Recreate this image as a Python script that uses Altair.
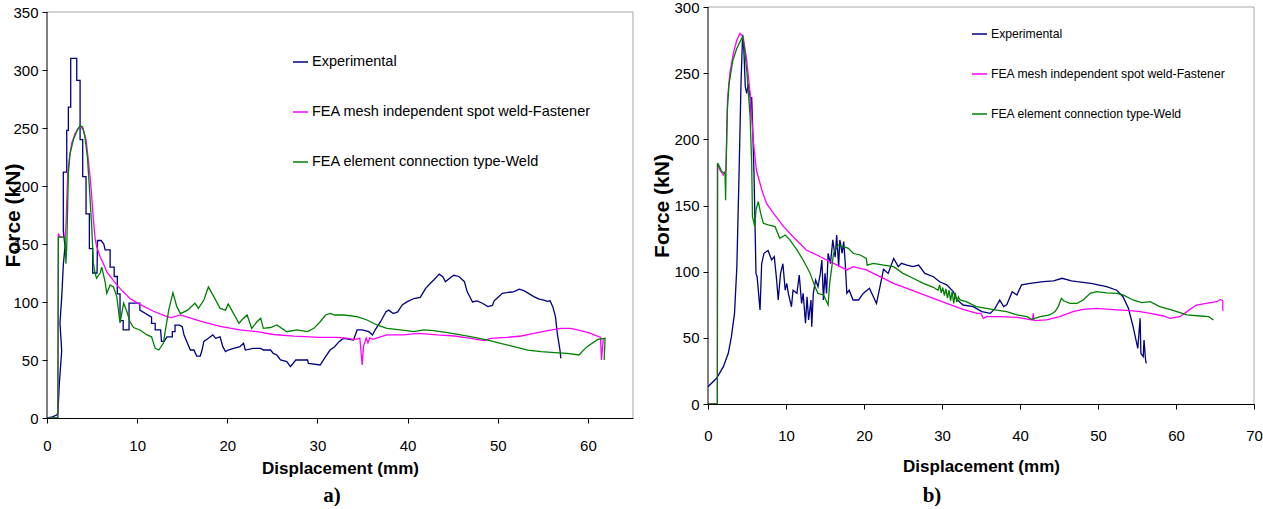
import altair as alt
import pandas as pd

NAMES = ["Experimental", "FEA mesh independent spot weld-Fastener", "FEA element connection type-Weld"]
COLORS = ["#000080", "#FF00FF", "#008000"]

# ---------------- chart a) ----------------
a_exp_x = [0, 0.6, 1.07, 1.2, 1.26, 1.37, 1.63, 1.44, 1.63, 1.81, 2.0, 1.81, 1.81, 1.89, 2.19, 2.19, 2.37, 2.37,
           2.63, 2.63, 3.30, 3.30, 3.67, 3.67, 3.96, 3.96, 4.33, 4.33, 4.70, 4.70, 5.07, 5.07, 5.55, 5.6, 6.0,
           6.3, 6.45, 7.0, 7.0, 7.45, 7.45, 7.8, 7.8, 8.1, 8.1, 8.45, 8.45, 9.1, 9.1, 10.3, 10.3, 11.6, 11.6,
           12.0, 12.0, 12.6, 12.7, 13.0, 13.3, 13.9, 13.9, 14.2, 14.2, 14.7, 15.0, 15.2, 15.5, 15.9, 16.3, 16.6,
           17.0, 17.2, 17.4, 17.9, 18.4, 18.7, 19.2, 19.5, 19.8, 20.1, 20.7, 21.4, 21.8, 22.0, 22.9, 23.7, 24.0,
           24.8, 25.1, 25.5, 25.9, 26.6, 27.0, 27.6, 28.9, 29.0, 30.3, 30.9, 31.4, 31.9, 32.4, 32.9, 34.0, 34.4,
           34.96, 35.7, 36.1, 36.4, 37.0, 37.6, 37.9, 38.4, 38.9, 39.4, 39.96, 40.7, 41.4, 42.0, 42.5, 42.9, 43.5,
           43.9, 44.2, 44.6, 45.1, 45.7, 46.3, 46.6, 47.2, 47.7, 48.3, 48.9, 49.4, 49.6, 50.1, 50.5, 51.0, 51.8,
           52.4, 52.9, 53.5, 54.0, 54.6, 55.1, 55.5, 55.8, 56.1, 56.4, 56.6, 56.9, 57.0]
a_exp_y = [0, 1, 2.6, 4, 12, 30, 58, 82, 104, 132, 148, 161, 212, 212, 212, 248, 248, 268,
           268, 310, 310, 291, 291, 240, 240, 208, 208, 176, 176, 146, 146, 125, 125, 153, 153,
           150, 145, 145, 130, 130, 122, 122, 107, 107, 84, 84, 76, 76, 99, 99, 93, 87, 81.6,
           81.6, 76, 76, 66, 66, 70, 70, 74.4, 74.4, 80, 80, 78.7, 71.6, 66, 58.6, 58.6, 53.4,
           53.4, 58.6, 66, 68.7, 71.6, 68.7, 70, 61.5, 57.2, 58.6, 60, 61.5, 64.4, 58.6, 60, 60, 58.6,
           58.6, 55.7, 54.3, 50, 48.6, 44.3, 50, 50, 47, 45.7, 52.9, 58.6, 61.5, 65.8, 68.7, 67.2, 75.9,
           75.9, 74.4, 71.6, 75.9, 83, 91.7, 93, 90, 91.5, 97.4, 100.3, 103, 104, 111.8, 116, 119, 124,
           121.8, 117.5, 120, 123, 122, 117.5, 109, 100, 101, 98.9, 96, 97, 101, 104.6, 107.5, 108, 109,
           111, 109.8, 107, 104.6, 102.5, 101.7, 100.5, 101, 96, 87.4, 73, 58.6, 51.4]

a_fas_x = [0, 1.2, 1.26, 1.44, 2.0, 2.1, 2.3, 2.5, 2.74, 3.11, 3.48, 3.78, 4.04, 4.33, 4.59, 4.78, 4.96, 5.15,
           5.33, 5.5, 5.89, 6.26, 6.63, 7.19, 7.74, 8.3, 9.2, 10.3, 11.8, 13.3, 13.8, 14.8, 17.0, 19.2, 21.4,
           23.3, 25.1, 27.4, 30.3, 32.2, 33.4, 34.0, 34.7, 34.96, 35.1, 35.4, 35.6, 35.8, 36.2, 36.8, 37.7,
           39.5, 41.2, 43.3, 45.2, 47.0, 48.5, 49.2, 51.0, 52.6, 54.0, 55.5, 57.0, 58.1, 59.2, 60.3, 61.4,
           61.5, 61.7]
a_fas_y = [0, 0, 159, 156, 156, 165, 211, 225, 237, 245, 250, 251, 248, 240, 222, 208, 191, 171,
           155, 148, 139, 133, 126, 120.4, 114.7, 110, 103, 98, 92, 87.4, 86.5, 88.8, 83.5, 79, 76,
           74.4, 72, 70.5, 69.5, 69.5, 68.7, 67.5, 68.7, 45.7, 61.5, 69, 64.7, 69, 67.8, 69.5, 71.6,
           71.6, 73, 71.6, 70.7, 68.7, 66.7, 68.7, 69.5, 70.7, 73, 75.3, 77.3, 77.3, 75.3, 73, 69.5,
           50, 68]

a_wel_x = [0, 1.2, 1.26, 2.0, 2.1, 2.2, 2.37, 2.56, 2.93, 3.3, 3.67, 3.96, 4.2, 4.48, 4.7, 4.96, 5.15, 5.33,
           5.5, 5.9, 6.07, 6.44, 6.63, 7.0, 7.37, 7.74, 8.1, 8.5, 8.85, 9.2, 9.6, 10.3, 11.1, 11.6, 12.0, 12.4,
           12.9, 13.5, 13.97, 14.4, 14.8, 15.6, 16.4, 16.8, 17.4, 17.9, 18.5, 19.2, 19.8, 20.1, 20.7, 21.3,
           21.6, 22.2, 22.7, 23.3, 23.7, 24.0, 24.8, 25.5, 26.6, 27.7, 28.9, 29.6, 30.3, 30.9, 31.4, 31.9,
           32.9, 34.4, 35.5, 36.6, 37.7, 39.2, 40.7, 41.8, 42.9, 44.4, 45.9, 47.4, 48.9, 50.3, 51.8, 53.3,
           54.8, 56.3, 57.7, 59.0, 59.9, 61.1, 61.9, 61.8]
a_wel_y = [0, 0, 156, 156, 133, 150, 211, 228, 240, 247, 252, 251, 242.5, 225, 199, 165, 133, 125,
           120.4, 125, 130, 117.5, 107.5, 114.7, 113, 104.6, 82, 99, 92, 83, 78, 75.9, 71.6, 70, 60, 58.6,
           64.4, 93, 108, 96, 90, 93, 98.9, 94.5, 101.7, 113, 104.6, 94.5, 93, 98.3, 90, 81.6,
           84.5, 88.8, 77.3, 83, 86, 77.3, 78, 80.2, 74.4, 75.9, 74.4, 77.3, 83, 88.8, 90.2, 88.8,
           88.8, 87.4, 84.5, 80.2, 77.3, 75.9, 74.4, 75.9, 75.3, 73.6, 71.6, 69.5, 67.2, 64.4, 61.5, 58.6,
           57.2, 56.3, 55.7, 54.3, 61.5, 67.8, 68.7, 50]

# ---------------- chart b) ----------------
b_exp_x = [0, 1.1, 1.97, 2.6, 3.0, 3.4, 3.7, 4.0, 4.23, 4.44, 4.6, 4.78, 4.96, 5.17, 5.4, 5.56, 5.6, 5.7, 5.9,
           6.15, 6.3, 6.67, 6.88, 7.18, 7.7, 8.16, 8.5, 8.8, 9.0, 9.3, 9.6, 9.9, 10.1, 10.3, 10.7, 10.9, 11.4,
           11.7, 12.0, 12.2, 12.5, 12.7, 12.9, 13.2, 13.3, 13.5, 13.8, 14.1, 14.4, 14.6, 14.8, 15.0, 15.2, 15.4,
           15.7, 16.0, 16.3, 16.5, 16.75, 16.9, 17.2, 17.4, 17.6, 17.8, 18.1, 18.6, 19.3, 19.9, 20.7, 21.2,
           21.6, 22.05, 22.5, 23.1, 23.8, 24.4, 24.8, 25.5, 26.3, 27.0, 27.8, 28.9, 29.7, 30.6, 31.45, 31.9,
           32.7, 34.0, 35.1, 36.2, 36.8, 37.4, 37.9, 38.3, 39.0, 39.6, 40.2, 41.3, 43.0, 44.3, 45.4, 46.6,
           47.3, 49.1, 51.1, 52.4, 53.2, 53.9, 54.5, 55.1, 55.4, 55.5, 55.8, 55.9, 56.1, 56.2]
b_exp_y = [13.1, 19.4, 28.2, 38.3, 50.9, 68.5, 103.8, 179, 242, 279, 267.5, 240, 234.8, 242, 232, 217, 232, 214, 174,
           98.7, 96, 71, 106, 113.9, 116, 108.8, 111.3, 93.7, 78.6, 98.7, 106, 86, 91.2, 83.6, 73.5, 86, 83.6,
           97.5, 76, 83.6, 61, 81, 63.5, 78.6, 58.4, 83.6, 93.7, 88.7, 98.7, 108.8, 78.6, 98.7, 83.6, 113.9,
           106, 124, 111, 127.7, 103.8, 124, 113.9, 122.7, 106, 83.6, 86, 78.6, 78.6, 83.6, 87.4, 81,
           76, 88.7, 101.8, 98.7, 110, 103.8, 106.3, 105, 103.8, 105, 98.7, 96.2, 92.4, 90, 84.9, 79,
           74.8, 73.6, 69.8, 68.5, 72.3, 78.6, 73.6, 75, 84.9, 82.4, 90, 91.2, 92.4, 93, 95, 93,
           92.4, 91.2, 88.7, 86, 81.1, 72.3, 58.4, 42, 64.7, 38.3, 35.8, 48.4, 33.2, 30.7]

b_fas_x = [0, 1.2, 1.2, 1.5, 1.97, 2.3, 2.5, 2.8, 3.25, 3.7, 4.1, 4.5, 4.96, 5.4, 5.8, 6.2, 6.9, 7.5, 8.4, 9.7,
           10.9, 12.6, 14.4, 16.1, 17.8, 18.6, 20.3, 22.05, 23.8, 25.5, 27.2, 28.9, 30.6, 32.7, 34.5, 35.0,
           35.3, 35.7, 37.4, 39.6, 41.6, 41.7, 41.8, 43.4, 45.1, 46.8, 48.1, 49.8, 51.5, 54.1, 55.4, 56.7,
           58.4, 59.2, 60.5, 61.4, 62.6, 64.4, 65.2, 65.7, 66.0, 66.0]
b_fas_y = [0, 0, 182, 177, 173, 177, 230, 250, 265, 275, 280, 277.6, 260, 234.8, 199.5, 176.8, 161.7, 151.6, 144, 134,
           126.4, 116.4, 111.3, 106.3, 101.3, 103.8, 101.3, 96.2, 91.2, 87.4, 83.6, 79.8, 76, 71.5, 68.5, 68.5,
           64.7, 66, 66, 65.5, 63.5, 68.5, 63, 63.5, 66, 69.8, 71.5, 72.3, 71.5, 70.5, 69.8, 68.5,
           66.5, 64.7, 66, 69.8, 74.8, 76.6, 77.3, 79, 78, 70.5]

b_wel_x = [0, 1.2, 1.24, 1.5, 1.75, 2.18, 2.26, 2.3, 2.48, 2.7, 3.2, 3.7, 4.1, 4.44, 4.7, 5.0, 5.4, 5.6, 5.7, 6.0,
           6.15, 6.45, 6.75, 7.1, 7.7, 8.6, 9.2, 9.9, 10.5, 11.4, 12.2, 13.1, 13.7, 14.1, 14.8, 15.4, 15.6,
           16.1, 16.7, 17.4, 18.0, 18.6, 19.5, 20.3, 20.4, 21.2, 22.5, 23.8, 25.0, 26.3, 27.6, 28.9, 29.5,
           29.7, 29.9, 30.1, 30.3, 30.5, 30.7, 30.9, 31.1, 31.3, 31.5, 31.7, 31.9, 32.1, 32.3, 33.1, 34.4,
           35.7, 37.0, 38.3, 39.6, 40.9, 41.5, 42.6, 43.8, 44.5, 44.9, 45.3, 45.6, 46.4, 47.3, 48.1, 49.0,
           49.8, 51.1, 52.4, 53.2, 54.5, 55.6, 56.7, 57.9, 59.2, 60.5, 61.4, 63.1, 64.2, 64.8]
b_wel_y = [0, 0, 182, 179, 175.6, 174.3, 154, 174, 222, 242, 260, 268.8, 273.8, 277.6, 267.5, 250, 217, 182, 141.6, 134,
           146.6, 153, 144, 136.5, 135.3, 134, 125.2, 127.7, 124, 116.4, 108.8, 98.7, 88.7, 83.6, 82.4, 74.8, 91.2,
           113.9, 120.2, 118.9, 117.6, 113.9, 112.6, 110, 105, 106.3, 105, 103.8, 98.7, 95, 91.2, 88.2, 86,
           90, 84, 88, 82, 87, 80, 86, 78, 85, 76, 84, 77, 81, 78.6, 77.3, 73.6,
           72.3, 71, 69.8, 67.3, 66, 64, 66, 67.3, 69.8, 73.6, 79.8, 78, 76, 76, 78.6, 83.6,
           84.9, 84, 83.6, 82.4, 78.6, 76.6, 77.3, 73.6, 71.5, 69, 67.3, 66.5, 66, 63.5]

SANS = "Liberation Sans Narrow, Liberation Sans, Arial, sans-serif"


def series_df(xs, ys):
    return pd.DataFrame({"x": xs, "y": ys, "i": list(range(len(xs)))})


def panel(series, W, H, top_off, xmax, xticks, ymax, yticks, ytitle_x, ytitle_y, xlab_pad, xtitle_y,
          leg_x, leg_y, leg_font, cap_text, cap_x, cap_y):
    # plot area spans H pixels; the framed area starts top_off pixels below its top
    ydom_max = ymax * H / (H - top_off)
    xax = alt.Axis(values=xticks, title="Displacement (mm)", grid=False,
                   domainColor="#000000", domainWidth=1, tickColor="#000000", tickSize=5,
                   labelFont=SANS, labelFontSize=15, labelColor="#000000",
                   labelPadding=xlab_pad, labelFlush=False,
                   titleFont=SANS, titleFontSize=17, titleFontWeight="bold",
                   titleColor="#000000", titleY=xtitle_y, titleBaseline="alphabetic")
    yax = alt.Axis(values=yticks, title="Force (kN)", grid=False, domain=False,
                   tickColor="#000000", tickSize=5,
                   labelFont=SANS, labelFontSize=15, labelColor="#000000",
                   labelPadding=4, labelFlush=False,
                   titleFont="Liberation Sans, Arial, sans-serif", titleFontSize=21, titleFontWeight="bold",
                   titleColor="#000000", titleX=ytitle_x, titleY=ytitle_y, titleBaseline="alphabetic",
                   titleAngle=270, titleAlign="center")
    xs = alt.Scale(domain=[0, xmax], nice=False, zero=False)
    ys = alt.Scale(domain=[0, ydom_max], nice=False, zero=False)
    layers = []
    frame = pd.DataFrame({"label": [cap_text]})
    # frame: gray top and right border, black left axis line
    layers.append(alt.Chart(frame).mark_rule(color="#a6a6a6", strokeWidth=1).encode(
        x=alt.value(0), x2=alt.value(W), y=alt.value(top_off)))
    layers.append(alt.Chart(frame).mark_rule(color="#a6a6a6", strokeWidth=1).encode(
        x=alt.value(W), y=alt.value(top_off), y2=alt.value(H)))
    for (xv, yv), col in series:
        layers.append(
            alt.Chart(series_df(xv, yv)).mark_line(strokeWidth=1.3, clip=True, color=col).encode(
                x=alt.X("x:Q", scale=xs, axis=xax),
                y=alt.Y("y:Q", scale=ys, axis=yax),
                order="i:Q",
            )
        )
    layers.append(alt.Chart(frame).mark_rule(color="#000000", strokeWidth=1).encode(
        x=alt.value(0), y=alt.value(top_off), y2=alt.value(H)))
    for k, (name, col) in enumerate(zip(NAMES, COLORS)):
        d = pd.DataFrame({"series": [name]})
        layers.append(alt.Chart(d).mark_rule(color=col, strokeWidth=1.5).encode(
            x=alt.value(leg_x), x2=alt.value(leg_x + 15), y=alt.value(leg_y[k])))
        layers.append(alt.Chart(d).mark_text(align="left", baseline="middle", font=SANS,
                                             fontSize=leg_font, color="#000000").encode(
            x=alt.value(leg_x + 19), y=alt.value(leg_y[k]), text="series:N"))
    layers.append(alt.Chart(frame).mark_text(align="center", baseline="alphabetic",
                                             font="Liberation Serif, Times New Roman, serif",
                                             fontSize=21, fontWeight="bold", color="#000000").encode(
        x=alt.value(cap_x), y=alt.value(cap_y), text="label:N"))
    return alt.layer(*layers).properties(width=W, height=H)


left = panel([((a_exp_x, a_exp_y), COLORS[0]), ((a_fas_x, a_fas_y), COLORS[1]), ((a_wel_x, a_wel_y), COLORS[2])],
             586, 411, 5, 65, [0, 10, 20, 30, 40, 50, 60], 350, [0, 50, 100, 150, 200, 250, 300, 350],
             -28, 208, 15, 55, 246, [55, 105, 155], 14.5, "a)", 285, 495)
right = panel([((b_exp_x, b_exp_y), COLORS[0]), ((b_fas_x, b_fas_y), COLORS[1]), ((b_wel_x, b_wel_y), COLORS[2])],
              546, 397, 0, 70, [0, 10, 20, 30, 40, 50, 60, 70], 300, [0, 50, 100, 150, 200, 250, 300],
              -40, 198.5, 19, 67, 264, [27, 67, 107], 12.2, "b)", 224, 495)

chart = alt.hconcat(left, right, spacing=17).properties(
    padding={"left": 2, "top": 0, "right": 0, "bottom": 0},
    background="#ffffff",
).configure_view(strokeWidth=0)

chart.save("out.html", embed_options={"renderer": "svg", "actions": False})
